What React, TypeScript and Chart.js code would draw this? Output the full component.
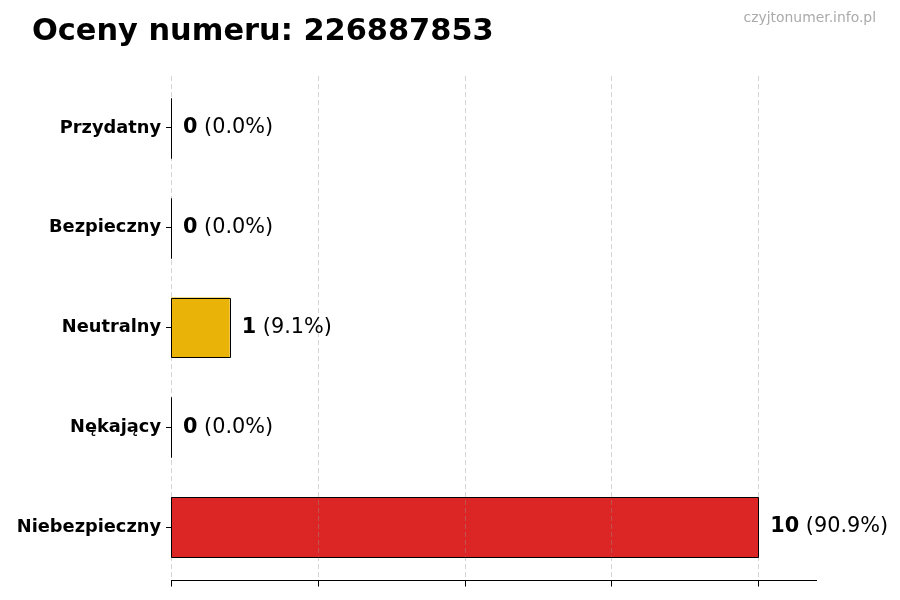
import React, { useEffect, useRef } from 'react';
import { Chart, registerables } from 'chart.js';

Chart.register(...registerables);

const CATEGORIES = ['Przydatny', 'Bezpieczny', 'Neutralny', 'Nękający', 'Niebezpieczny'];
const COUNTS = [0, 0, 1, 0, 10];
const BAR_COLORS = ['#22C55E', '#3B82F6', '#EAB308', '#F97316', '#DC2626'];
const X_TICKS = [0, 2.5, 5, 7.5, 10];
const TITLE = 'Oceny numeru: 226887853';
const WATERMARK = 'czyjtonumer.info.pl';

const FONT = '"DejaVu Sans", sans-serif';
const AXIS_GAP = 3; // bottom spine sits a little below the last band

// dashed grid on top of the bars, plus the bottom spine and its ticks
const gridOverlay = {
  id: 'gridOverlay',
  afterDatasetsDraw(chart: any) {
    const { ctx, chartArea, scales } = chart;
    const axisY = Math.round(chartArea.bottom + AXIS_GAP) + 0.5;
    ctx.save();
    ctx.strokeStyle = 'rgba(150,150,150,0.4)';
    ctx.lineWidth = 1;
    ctx.setLineDash([5, 3]);
    X_TICKS.forEach((v) => {
      const x = Math.round(scales.x.getPixelForValue(v)) + 0.5;
      ctx.beginPath();
      ctx.moveTo(x, chartArea.top - 2);
      ctx.lineTo(x, axisY);
      ctx.stroke();
    });
    ctx.setLineDash([]);
    ctx.strokeStyle = '#000';
    ctx.beginPath();
    ctx.moveTo(chartArea.left, axisY);
    ctx.lineTo(chartArea.right, axisY);
    X_TICKS.forEach((v) => {
      const x = Math.round(scales.x.getPixelForValue(v)) + 0.5;
      ctx.moveTo(x, axisY);
      ctx.lineTo(x, axisY + 6);
    });
    ctx.stroke();
    ctx.restore();
  },
};

// black edge round every bar, zero-width bars become a thin line
const barOutline = {
  id: 'barOutline',
  afterDatasetsDraw(chart: any) {
    const { ctx } = chart;
    const meta = chart.getDatasetMeta(0);
    ctx.save();
    ctx.strokeStyle = '#000';
    ctx.lineWidth = 1;
    meta.data.forEach((el: any) => {
      const { x, y, base, height } = el.getProps(['x', 'y', 'base', 'height'], true);
      const l = Math.round(Math.min(x, base)) + 0.5;
      const r = Math.round(Math.max(x, base)) + 0.5;
      const t = Math.round(y - height / 2) + 0.5;
      const b = Math.round(y + height / 2) + 0.5;
      ctx.beginPath();
      ctx.moveTo(l, t);
      ctx.lineTo(r, t);
      ctx.lineTo(r, b);
      ctx.lineTo(l, b);
      ctx.closePath();
      ctx.stroke();
    });
    ctx.restore();
  },
};

const valueLabels = {
  id: 'valueLabels',
  afterDatasetsDraw(chart: any) {
    const { ctx } = chart;
    const data = chart.data.datasets[0].data as number[];
    const total = data.reduce((a, b) => a + b, 0);
    const meta = chart.getDatasetMeta(0);
    ctx.save();
    ctx.fillStyle = '#000';
    ctx.textBaseline = 'middle';
    ctx.textAlign = 'left';
    meta.data.forEach((el: any, i: number) => {
      const v = data[i];
      const pct = total ? ((v / total) * 100).toFixed(1) : '0.0';
      let x = el.x + 12;
      ctx.font = `bold 20.8px ${FONT}`;
      ctx.fillText(String(v), x, el.y);
      x += ctx.measureText(String(v)).width;
      ctx.font = `20.8px ${FONT}`;
      ctx.fillText(` (${pct}%)`, x, el.y);
    });
    ctx.restore();
  },
};

const headings = {
  id: 'headings',
  afterDraw(chart: any) {
    const { ctx } = chart;
    ctx.save();
    ctx.textBaseline = 'alphabetic';
    ctx.fillStyle = '#000';
    ctx.textAlign = 'left';
    ctx.font = `bold 30.4px ${FONT}`;
    ctx.fillText(TITLE, 32, 40);
    ctx.fillStyle = '#aaaaaa';
    ctx.textAlign = 'right';
    ctx.font = `13.9px ${FONT}`;
    ctx.fillText(WATERMARK, 876, 22);
    ctx.restore();
  },
};

const RatingsChart: React.FC = () => {
  const canvasRef = useRef<HTMLCanvasElement>(null);
  const chartInstance = useRef<Chart | null>(null);

  useEffect(() => {
    if (chartInstance.current) chartInstance.current.destroy();
    if (!canvasRef.current) return;

    chartInstance.current = new Chart(canvasRef.current, {
      type: 'bar',
      data: {
        labels: CATEGORIES,
        datasets: [
          {
            data: COUNTS,
            backgroundColor: BAR_COLORS,
            borderWidth: 0,
            barPercentage: 0.6,
            categoryPercentage: 1,
          },
        ],
      },
      options: {
        indexAxis: 'y',
        animation: false,
        responsive: false,
        maintainAspectRatio: false,
        layout: { padding: { top: 78, right: 83, bottom: 13, left: 0 } },
        plugins: {
          legend: { display: false },
          tooltip: { enabled: false },
        },
        scales: {
          x: {
            type: 'linear',
            min: 0,
            max: 11,
            afterBuildTicks: (scale: any) => {
              scale.ticks = X_TICKS.map((v) => ({ value: v }));
            },
            afterFit: (scale: any) => {
              scale.height = 10;
            },
            ticks: { display: false },
            grid: { display: false },
            border: { display: false },
          },
          y: {
            afterFit: (scale: any) => {
              scale.width = 171;
            },
            ticks: {
              color: '#000',
              padding: 5,
              font: { family: FONT, size: 17.8, weight: 'bold' },
            },
            grid: {
              offset: false,
              drawOnChartArea: false,
              drawTicks: true,
              tickLength: 5,
              tickColor: '#000',
            },
            border: { display: false },
          },
        },
      },
      plugins: [gridOverlay, barOutline, valueLabels, headings],
    });

    return () => {
      if (chartInstance.current) {
        chartInstance.current.destroy();
        chartInstance.current = null;
      }
    };
  }, []);

  return (
    <div style={{ position: 'fixed', left: 0, top: 0, width: 900, height: 600, background: '#fff' }}>
      <canvas ref={canvasRef} width={900} height={600} style={{ width: 900, height: 600 }} />
    </div>
  );
};

export default function App() {
  return <RatingsChart />;
}
